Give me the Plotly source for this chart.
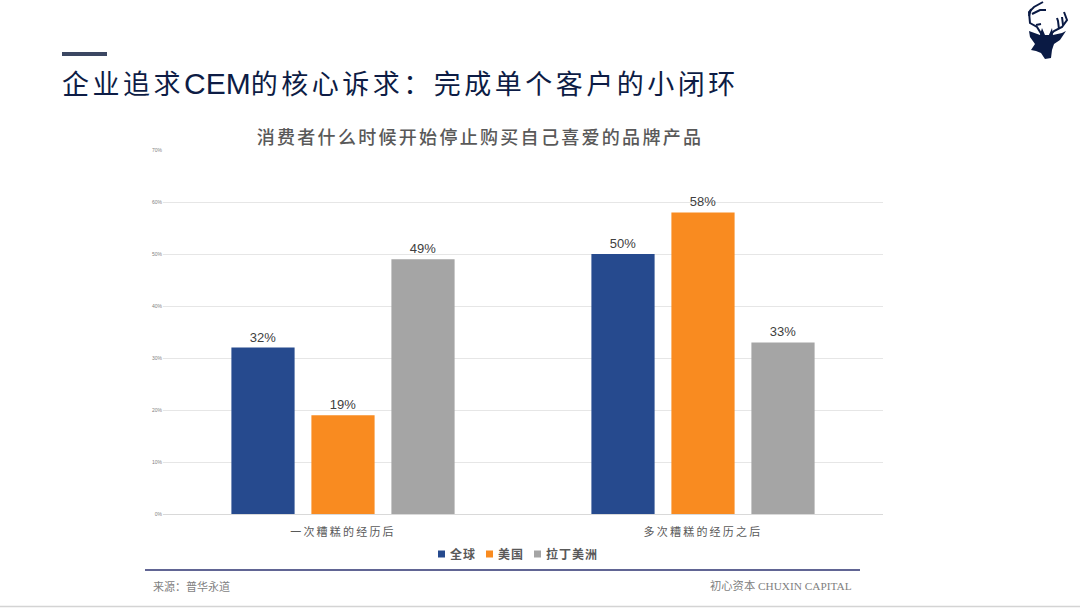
import plotly.graph_objects as go

W, H = 1080, 608
categories = ["一次糟糕的经历后", "多次糟糕的经历之后"]
series_names = ["全球", "美国", "拉丁美洲"]
global_values = [0.32, 0.50]
us_values = [0.19, 0.58]
latam_values = [0.49, 0.33]
series_values = [global_values, us_values, latam_values]
series_colors = ["#264a8e", "#f98b20", "#a5a5a5"]
y_ticks = [0, 0.1, 0.2, 0.3, 0.4, 0.5, 0.6, 0.7]

CJK = "Noto Sans CJK SC, Noto Sans, sans-serif"


def px(x):
    return x / W


def py(y):
    return 1 - y / H


def ppath(points):
    return "M" + "L".join(f"{px(x):.5f},{py(y):.5f}" for x, y in points) + "Z"


def open_path(points):
    return "M" + "L".join(f"{px(x):.5f},{py(y):.5f}" for x, y in points)


fig = go.Figure()
for name, vals, color in zip(series_names, series_values, series_colors):
    fig.add_trace(go.Bar(
        x=categories, y=vals, name=name, marker=dict(color=color, line=dict(width=0)),
        text=vals, texttemplate="%{y:.0%}", textposition="outside", cliponaxis=False,
        textfont=dict(family="Liberation Sans, Arial", size=13, color="#404040"),
        showlegend=False,
    ))

shapes = [
    dict(type="rect", xref="paper", yref="paper", x0=px(62), x1=px(107), y0=py(56), y1=py(52),
         fillcolor="#3b4762", line=dict(width=0)),
    dict(type="line", xref="paper", yref="paper", x0=px(145), x1=px(860), y0=py(570), y1=py(570),
         line=dict(color="#2d3270", width=1.5)),
    dict(type="line", xref="paper", yref="paper", x0=0, x1=1, y0=py(606.5), y1=py(606.5),
         line=dict(color="#d4d4d4", width=1.5)),
]

# Logo: stag head
navy = "#0a1a44"
shapes.append(dict(type="path", xref="paper", yref="paper", fillcolor=navy, line=dict(width=0), path=ppath([
    (1029, 31), (1040, 35), (1042, 28), (1045, 35), (1049, 35), (1052, 28), (1053, 35), (1062, 33),
    (1066, 31), (1060, 40), (1054, 44), (1052, 50), (1051, 58), (1045, 59), (1041, 53), (1036, 51),
    (1031, 50), (1035, 44), (1030, 37),
])))
for antler in [
    [(1042, 35), (1037, 27), (1030, 23), (1029, 12), (1034, 7), (1043, 2)],
    [(1029, 16), (1031, 9)],
    [(1032, 14), (1040, 10), (1046, 10)],
    [(1036, 25), (1041, 24)],
    [(1050, 35), (1054, 31), (1062, 27), (1067, 20), (1064, 12)],
    [(1059, 29), (1058, 21), (1057, 18)],
    [(1063, 25), (1062, 17)],
]:
    shapes.append(dict(type="path", xref="paper", yref="paper", line=dict(color=navy, width=2),
                       path=open_path(antler)))

annotations = [
    dict(text="企业追求<span style='font-family:Liberation Sans;font-size:30px;letter-spacing:0'>CEM</span>的核心诉求：完成单个客户的小闭环",
         x=px(62), y=py(82.5), xanchor="left", yanchor="middle", align="left",
         font=dict(family=CJK, size=27, color="#0d1c45")),
    dict(text="消费者什么时候开始停止购买自己喜爱的品牌产品",
         x=px(480), y=py(136.5), xanchor="center", yanchor="middle",
         font=dict(family=CJK, size=18, color="#595959", weight=500)),
    dict(text="来源：普华永道", x=px(153), y=py(585.5), xanchor="left", yanchor="middle", align="left",
         font=dict(family=CJK, size=11, color="#7f7f7f")),
    dict(text="初心资本 CHUXIN CAPITAL", x=px(852), y=py(585.5), xanchor="right", yanchor="middle", align="right",
         font=dict(family="Liberation Serif, Noto Sans CJK SC", size=11.3, color="#7f7f7f")),
]

# Legend row
legend_sq = [438, 486, 534]
legend_tx = [450, 498, 546]
for name, color, sx, tx in zip(series_names, series_colors, legend_sq, legend_tx):
    shapes.append(dict(type="rect", xref="paper", yref="paper", x0=px(sx), x1=px(sx + 7),
                       y0=py(557.5), y1=py(550.5), fillcolor=color, line=dict(width=0)))
    annotations.append(dict(text=f"<b>{name}</b>", x=px(tx), y=py(553.5), xanchor="left", yanchor="middle", align="left",
                            font=dict(family=CJK, size=12, color="#595959")))

for a in annotations:
    a.update(xref="paper", yref="paper", showarrow=False, borderpad=0, borderwidth=0)

fig.update_layout(
    width=W, height=H, margin=dict(l=0, r=0, t=0, b=0, autoexpand=False),
    paper_bgcolor="white", plot_bgcolor="white",
    barmode="group", bargap=1 / 3, bargroupgap=0.21,
    showlegend=False, shapes=shapes, annotations=annotations,
    xaxis=dict(domain=[px(163), px(883)], showgrid=False, showline=True, linecolor="#d9d9d9",
               linewidth=1, ticks="", ticklabelstandoff=8,
               tickfont=dict(family=CJK, size=11, color="#595959")),
    yaxis=dict(domain=[py(514), py(150)], range=[0, 0.7], tickvals=y_ticks, tickformat=".0%",
               gridcolor="#e6e6e6", gridwidth=1, zeroline=False, showline=False, ticks="",
               tickfont=dict(family="Liberation Sans, Arial", size=5, color="#7f7f7f")),
)

css = """
.annotation[data-index="0"] text {letter-spacing:3.5px}
.annotation[data-index="1"] text {letter-spacing:2.3px}
.annotation[data-index="4"] text, .annotation[data-index="5"] text, .annotation[data-index="6"] text {letter-spacing:1px}
.xtick text {letter-spacing:2.2px}
"""
post = (
    "document.body.style.margin='0';"
    "var s=document.createElement('style');s.textContent=" + repr(css.replace("\n", " ")) + ";"
    "document.head.appendChild(s);"
)
fig.write_html("out.html", post_script=post, config={"displayModeBar": False})
